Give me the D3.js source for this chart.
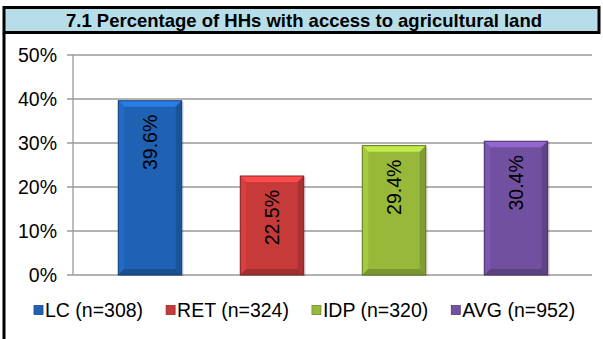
<!DOCTYPE html>
<html>
<head>
<meta charset="utf-8">
<script src="https://cdn.jsdelivr.net/npm/d3@7"></script>
<style>
  body { margin: 0; background: #fff; }
  text { font-family: Arial, "Liberation Sans", sans-serif; }
</style>
</head>
<body>
<div id="chart"></div>
<script>
var groups = ['LC', 'RET', 'IDP', 'AVG'];
var legendLabels = ['LC (n=308)', 'RET (n=324)', 'IDP (n=320)', 'AVG (n=952)'];
var values = [39.6, 22.5, 29.4, 30.4];
var yTicks = [0, 10, 20, 30, 40, 50];
var colors = ['#1f62b3', '#c63a3a', '#98b83a', '#7150a0'];
var title = '7.1 Percentage of HHs with access to agricultural land';

var width = 603, height = 339;
var svg = d3.select('#chart').append('svg')
  .attr('width', width)
  .attr('height', height);

// title band
svg.append('rect')
  .attr('x', 4).attr('y', 7.5)
  .attr('width', 595).attr('height', 25)
  .attr('fill', '#b7dee8')
  .attr('stroke', '#000').attr('stroke-width', 3);
svg.append('text')
  .attr('x', 304).attr('y', 26.5)
  .attr('text-anchor', 'middle')
  .attr('font-size', 18.5).attr('font-weight', 'bold')
  .text(title);
// left frame line
svg.append('line')
  .attr('x1', 4).attr('x2', 4)
  .attr('y1', 33).attr('y2', height)
  .attr('stroke', '#000').attr('stroke-width', 3);

var x = d3.scaleBand().domain(groups).range([89, 577]).paddingInner(0.48).paddingOuter(0.24);
var y = d3.scaleLinear().domain([0, 50]).range([275, 55]);

// gridlines + ticks
var grid = svg.append('g');
grid.selectAll('line')
  .data(yTicks)
  .enter().append('line')
    .attr('x1', 67).attr('x2', 592)
    .attr('y1', function(d) { return y(d); })
    .attr('y2', function(d) { return y(d); })
    .attr('stroke', '#9a9a9a').attr('stroke-width', 1.3);
svg.append('line')
  .attr('x1', 73).attr('x2', 73)
  .attr('y1', y(50)).attr('y2', y(0))
  .attr('stroke', '#9a9a9a').attr('stroke-width', 1.3);
svg.append('g').selectAll('text')
  .data(yTicks)
  .enter().append('text')
    .attr('x', 57)
    .attr('y', function(d) { return y(d); })
    .attr('dy', '0.36em')
    .attr('text-anchor', 'end')
    .attr('font-size', 19.5)
    .text(function(d) { return d + '%'; });

// bars with bevel
var bars = svg.append('g').selectAll('g')
  .data(values)
  .enter().append('g')
    .attr('transform', function(d, i) { return 'translate(' + x(groups[i]) + ',' + y(d) + ')'; });

var bw = x.bandwidth(), bev = 6;
bars.append('rect')
  .attr('x', 2).attr('y', 1)
  .attr('width', bw).attr('height', function(d) { return y(0) - y(d); })
  .attr('fill', '#000').attr('opacity', 0.12);
bars.append('rect')
  .attr('width', bw).attr('height', function(d) { return y(0) - y(d); })
  .attr('fill', function(d, i) { return colors[i]; });
// top bevel
bars.append('path')
  .attr('d', function() { return 'M0,0H' + bw + 'L' + (bw - bev) + ',' + bev + 'H' + bev + 'Z'; })
  .attr('fill', function(d, i) { return d3.color(colors[i]).brighter(0.7); });
// left bevel
bars.append('path')
  .attr('d', function(d) { var h = y(0) - y(d); return 'M0,0L' + bev + ',' + bev + 'V' + (h - bev) + 'L0,' + h + 'Z'; })
  .attr('fill', function(d, i) { return d3.color(colors[i]).brighter(0.25); });
// right bevel
bars.append('path')
  .attr('d', function(d) { var h = y(0) - y(d); return 'M' + bw + ',0L' + (bw - bev) + ',' + bev + 'V' + (h - bev) + 'L' + bw + ',' + h + 'Z'; })
  .attr('fill', function(d, i) { return d3.color(colors[i]).darker(0.45); });
// bottom bevel
bars.append('path')
  .attr('d', function(d) { var h = y(0) - y(d); return 'M0,' + h + 'L' + bev + ',' + (h - bev) + 'H' + (bw - bev) + 'L' + bw + ',' + h + 'Z'; })
  .attr('fill', function(d, i) { return d3.color(colors[i]).darker(0.6); });
bars.append('rect')
  .attr('width', bw).attr('height', function(d) { return y(0) - y(d); })
  .attr('fill', 'none')
  .attr('stroke', function(d, i) { return d3.color(colors[i]).darker(1.2); })
  .attr('stroke-width', 1);

// value labels
bars.append('text')
  .attr('transform', 'translate(' + (bw / 2) + ',14) rotate(-90)')
  .attr('dy', '0.36em')
  .attr('text-anchor', 'end')
  .attr('font-size', 19.5)
  .text(function(d) { return d.toFixed(1) + '%'; });

// legend: items laid out one after another with equal gaps
var legend = svg.append('g');
var lx = 34, gap = 23;
legendLabels.forEach(function(label, i) {
  var item = legend.append('g').attr('transform', 'translate(' + lx + ',310)');
  item.append('rect')
    .attr('x', 0).attr('y', -4.5)
    .attr('width', 9).attr('height', 9)
    .attr('fill', colors[i])
    .attr('stroke', d3.color(colors[i]).darker(0.8))
    .attr('stroke-width', 0.8);
  var t = item.append('text')
    .attr('x', 11)
    .attr('dy', '0.36em')
    .attr('font-size', 19.5)
    .text(label);
  lx += 11 + t.node().getComputedTextLength() + gap;
});
</script>
</body>
</html>
